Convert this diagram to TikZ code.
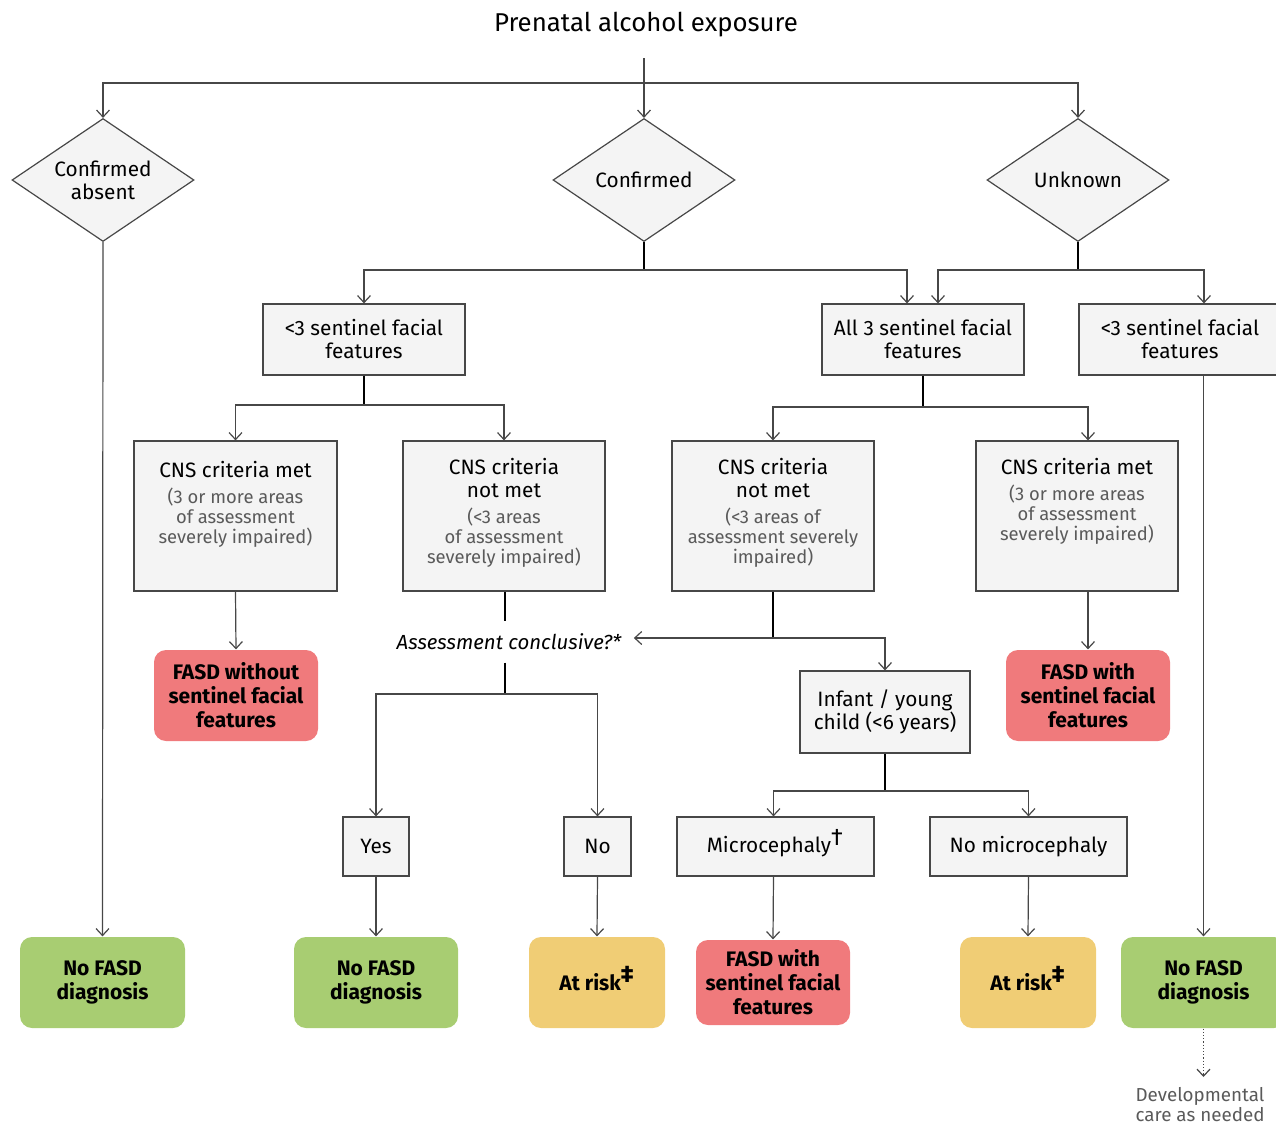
\documentclass[tikz,border=0pt]{standalone}
\usepackage{fontspec}
\setmainfont{Fira Sans}
\usetikzlibrary{positioning,shapes.geometric,arrows.meta}
\definecolor{boxgray}{HTML}{F4F4F4}
\definecolor{linegray}{HTML}{474747}
\definecolor{subgray}{HTML}{5A5A5A}
\definecolor{fasdred}{HTML}{F07A7C}
\definecolor{nogreen}{HTML}{A8CD72}
\definecolor{riskyellow}{HTML}{F0CD75}
\newcommand{\subfont}{\color{subgray}\fontsize{9.2}{10}\selectfont}
\newcommand{\notemark}[1]{\textsuperscript{\smash{\large #1}}}

\begin{document}
\begin{tikzpicture}[x=0.5pt,y=-0.5pt,>={Straight Barb[length=3.5pt,width=6.5pt]},line width=0.6pt]
    \tikzstyle{choice} = [diamond, draw=linegray, fill=boxgray, minimum width=91pt, minimum height=61.5pt, inner sep=-3pt, align=center, font=\fontsize{10.4}{11.5}\selectfont]
    \tikzstyle{crit} = [rectangle, draw=linegray, fill=boxgray, inner sep=0pt, align=center, font=\fontsize{10.4}{11.5}\selectfont]
    \tikzstyle{cnstext} = [anchor=north, inner sep=0pt, align=center, font=\fontsize{10.4}{11.5}\selectfont]
    \tikzstyle{outcome} = [rectangle, rounded corners=6pt, inner sep=0pt, align=center, minimum height=45.5pt, font=\fontsize{10.5}{12}\selectfont\bfseries]
    \tikzstyle{link} = [draw=linegray, ->]
    \useasboundingbox (0,0) rectangle (1276,1124);

    % title and first split
    \node (title) at (646,25) [font=\fontsize{12.9}{14}\selectfont] {Prenatal alcohol exposure};
    \node (absent) at (103,180) [choice] {Confirmed\\absent};
    \node (conf) at (644,180) [choice] {Confirmed};
    \node (unk) at (1078,180) [choice] {Unknown};
    \coordinate (top) at (644,58);
    \coordinate (j0) at (644,83);
    \draw[link] (top) -- (conf.north);
    \draw[link] (j0) -| (absent.north);
    \draw[link] (j0) -| (unk.north);

    % facial features
    \node (lt3L) at (364,339.5) [crit, minimum width=101pt, minimum height=35.5pt] {<3 sentinel facial\\features};
    \node (all3) at (923,339.5) [crit, minimum width=101pt, minimum height=35.5pt] {All 3 sentinel facial\\features};
    \node (lt3R) at (1180,339.5) [crit, minimum width=101pt, minimum height=35.5pt] {<3 sentinel facial\\features};
    \coordinate (j1) at (644,270);
    \coordinate (j2) at (1078,270);
    \draw (conf.south) -- (j1);
    \draw[link] (j1) -| (lt3L.north);
    \draw[link] (j1) -| ([xshift=-8pt]all3.north);
    \draw (unk.south) -- (j2);
    \draw[link] (j2) -| ([xshift=7.5pt]all3.north);
    \draw[link] (j2) -| ([xshift=12pt]lt3R.north);

    % CNS criteria
    \node (metL) at (235.5,516) [crit, minimum width=101.5pt, minimum height=75pt] {};
    \node (notL) at (504,516) [crit, minimum width=101pt, minimum height=75pt] {};
    \node (notR) at (773,516) [crit, minimum width=101pt, minimum height=75pt] {};
    \node (metR) at (1077,516) [crit, minimum width=101pt, minimum height=75pt] {};
    \node (metLtxt) at (235.5,461) [cnstext] {CNS criteria met\\[1.5pt]\subfont (3 or more areas\\[-1.6pt]\subfont of assessment\\[-1.6pt]\subfont severely impaired)};
    \node (notLtxt) at (504,458) [cnstext] {CNS criteria\\not met\\[1.5pt]\subfont (<3 areas\\[-1.6pt]\subfont of assessment\\[-1.6pt]\subfont severely impaired)};
    \node (notRtxt) at (773,458) [cnstext] {CNS criteria\\not met\\[1.5pt]\subfont (<3 areas of\\[-1.6pt]\subfont assessment severely\\[-1.6pt]\subfont impaired)};
    \node (metRtxt) at (1077,458) [cnstext] {CNS criteria met\\[1.5pt]\subfont (3 or more areas\\[-1.6pt]\subfont of assessment\\[-1.6pt]\subfont severely impaired)};
    \coordinate (j3) at (364,405);
    \coordinate (j4) at (923,407);
    \draw (lt3L.south) -- (j3);
    \draw[link] (j3) -| (metL.north);
    \draw[link] (j3) -| (notL.north);
    \draw (all3.south) -- (j4);
    \draw[link] (j4) -| (notR.north);
    \draw[link] (j4) -| ([xshift=5.5pt]metR.north);

    % outcomes of CNS criteria met
    \node (fasdL) at (236,695.5) [outcome, fill=fasdred, minimum width=82pt] {FASD without\\sentinel facial\\features};
    \node (fasdR) at (1088,695.5) [outcome, fill=fasdred, minimum width=82pt] {FASD with\\sentinel facial\\features};
    \draw[link] (metL.south) -- (fasdL.north);
    \draw[link] (metR.south -| fasdR) -- (fasdR.north);

    % assessment conclusive
    \node (query) at (509,642) [inner sep=6pt, font=\fontsize{10.2}{11.5}\selectfont\itshape] {Assessment conclusive?*};
    \node (yes) at (376,846.5) [crit, minimum width=33pt, minimum height=29.5pt] {Yes};
    \node (no) at (597.5,846.5) [crit, minimum width=33.5pt, minimum height=29.5pt] {No};
    \coordinate (j5) at (505,694);
    \coordinate (j6) at (773,638);
    \draw (notL.south -| j5) -- (j5 |- query.north);
    \draw (j5 |- query.south) -- (j5);
    \draw[link] (j5) -| (yes.north);
    \draw[link] (j5) -| (no.north);
    \draw (notR.south) -- (j6);
    \draw[link] (j6) -- (j6 -| query.east);

    % young children
    \node (infant) at (885,712) [crit, minimum width=85pt, minimum height=41pt] {Infant / young\\child (<6 years)};
    \node (micro) at (775.5,846.5) [crit, minimum width=98.5pt, minimum height=29.5pt] {Microcephaly\notemark{†}};
    \node (nomicro) at (1028.5,846.5) [crit, minimum width=98.5pt, minimum height=29.5pt] {No microcephaly};
    \coordinate (j7) at (885,791);
    \draw[link] (j6) -| (infant.north);
    \draw (infant.south) -- (j7);
    \draw[link] (j7) -| ([xshift=-1pt]micro.north);
    \draw[link] (j7) -| (nomicro.north);

    % final outcomes
    \node (nofasd1) at (102.5,982.5) [outcome, fill=nogreen, minimum width=82.5pt] {No FASD\\diagnosis};
    \node (nofasd2) at (376,982.5) [outcome, fill=nogreen, minimum width=82pt] {No FASD\\diagnosis};
    \node (risk1) at (597,982.5) [outcome, fill=riskyellow, minimum width=68pt] {At risk\notemark{‡}};
    \node (fasdmid) at (773,982.5) [outcome, fill=fasdred, minimum width=77pt, minimum height=42.5pt] {FASD with\\sentinel facial\\features};
    \node (risk2) at (1028,982.5) [outcome, fill=riskyellow, minimum width=68pt] {At risk\notemark{‡}};
    \node (nofasd3) at (1203.5,982.5) [outcome, fill=nogreen, minimum width=82.5pt] {No FASD\\diagnosis};
    \draw[link] (absent.south) -- (nofasd1.north);
    \draw[link] (yes.south) -- (nofasd2.north);
    \draw[link] (no.south) -- (risk1.north);
    \draw[link] ([xshift=-1pt]micro.south) -- (fasdmid.north);
    \draw[link] (nomicro.south) -- (risk2.north);
    \draw[link] (lt3R.south -| nofasd3) -- (nofasd3.north);

    % follow-up
    \node (dev) at (1200,1087) [anchor=north, inner sep=0pt, align=center, text=subgray, font=\fontsize{9.4}{10}\selectfont] {Developmental\\care as needed};
    \draw[link, densely dotted] (nofasd3.south) -- ([yshift=5pt]nofasd3.south |- dev.north);
\end{tikzpicture}
\end{document}
